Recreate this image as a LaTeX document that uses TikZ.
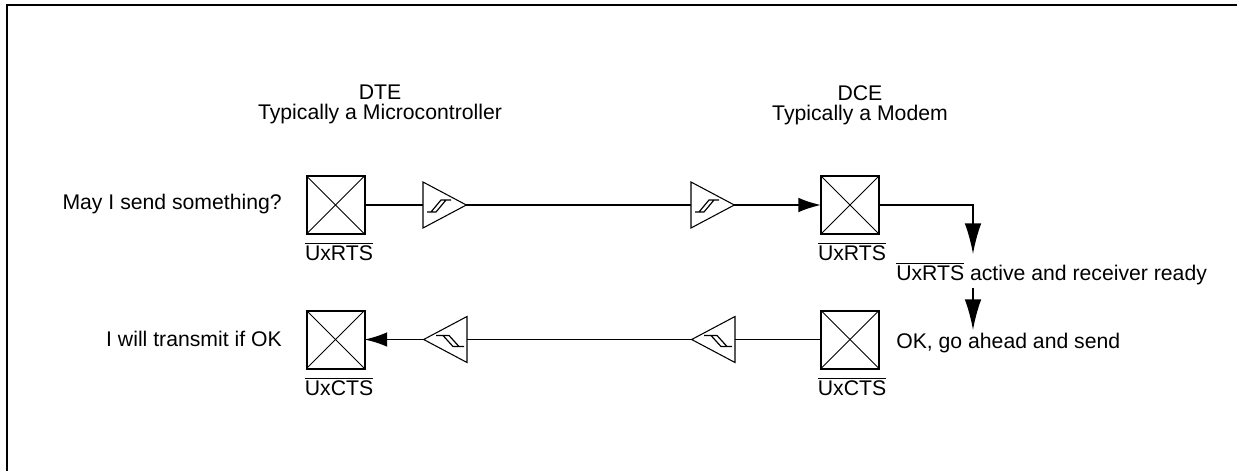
\documentclass[tikz,border=0pt]{standalone}
\usepackage{fontspec}
\setmainfont{Liberation Sans}
\usetikzlibrary{arrows.meta, shapes.geometric}

% hysteresis marks, drawn from the base of a buffer
\newcommand{\risemark}[1]{
    \draw[glyph] ([shift={(4,7)}]#1.lower side) -- ++(9,0) -- ++(10,-12) -- ++(5,0) -- ++(-10,0) -- ++(-10,12);
}
\newcommand{\fallmark}[1]{
    \draw[glyph] ([shift={(-3,7)}]#1.lower side) -- ++(-11,0) -- ++(-10,-11) -- ++(-7,0) -- ++(13,0) -- ++(10,11);
}

\begin{document}
\begin{tikzpicture}[
    x=0.75pt, y=-0.75pt,
    % Clean styles
    padbox/.style={
        rectangle,
        draw=black,
        line width=1.5pt,
        minimum size=43.5pt,
        inner sep=0pt,
        outer sep=0pt,
        path picture={
            \draw[line width=0.75pt] (path picture bounding box.north west) -- (path picture bounding box.south east);
            \draw[line width=0.75pt] (path picture bounding box.north east) -- (path picture bounding box.south west);
        }
    },
    buffer/.style={
        isosceles triangle,
        isosceles triangle stretches,
        draw=black,
        line width=0.8pt,
        minimum width=34.5pt,
        minimum height=32.5pt,
        inner sep=0pt,
        outer sep=0pt
    },
    glyph/.style={line width=0.9pt, x=0.75pt, y=-0.75pt, line join=bevel},
    signal/.style={line width=1.25pt},
    arrow/.style={
        signal,
        -{Latex[length=17pt, width=11pt]}
    },
    bigarrow/.style={
        signal,
        -{Latex[length=23pt, width=12.5pt]}
    },
    note/.style={
        font=\fontsize{15.9}{15}\selectfont,
        inner sep=0pt
    }
]
\useasboundingbox (0,0) rectangle (1246,471);

% === Frame ===
\coordinate (frameA) at (7,471);
\coordinate (frameB) at (7,5);
\coordinate (frameC) at (1237,5);
\draw[line width=1.6pt] (frameA) -- (frameB) -- (frameC);

% === Headings ===
\node[note, align=center, anchor=north] (dte) at (380,85) {DTE\\Typically a Microcontroller};
\node[note, align=center, anchor=north] (dce) at (860,85) {DCE\\Typically a Modem};

% === Pads ===
\node[padbox] (rtsA) at (335.5,205) {};
\node[padbox] (rtsB) at (850,205) {};
\node[padbox] (ctsA) at (335.5,339.5) {};
\node[padbox] (ctsB) at (850,339.5) {};

% === Buffers ===
\node[buffer, anchor=lower side] (bufA) at (423,205) {};
\node[buffer, anchor=lower side] (bufB) at (691,205) {};
\node[buffer, shape border rotate=180, anchor=lower side] (bufC) at (467,339.5) {};
\node[buffer, shape border rotate=180, anchor=lower side] (bufD) at (735,339.5) {};
\risemark{bufA}
\risemark{bufB}
\fallmark{bufC}
\fallmark{bufD}

% === Pad labels ===
\node[note, anchor=base] (lblA) at (339,260) {$\overline{\mbox{UxRTS}}$};
\node[note, anchor=base] (lblB) at (852,260) {$\overline{\mbox{UxRTS}}$};
\node[note, anchor=base] (lblC) at (339,395) {$\overline{\mbox{UxCTS}}$};
\node[note, anchor=base] (lblD) at (852,395) {$\overline{\mbox{UxCTS}}$};

% === Side text ===
\node[note, anchor=east] (askA) at (282,204) {May I send something?};
\node[note, anchor=east] (askB) at (282,339) {I will transmit if OK};
\node[note, anchor=base west] (ready) at (896,280) {$\overline{\mbox{UxRTS}}$ active and receiver ready};
\node[note, anchor=base west] (okay) at (896,348) {OK, go ahead and send};

% === Arrows ===
\coordinate (bend) at (973,205);
\coordinate (tipA) at (973,254);
\coordinate (tailB) at (973,288);
\coordinate (tipB) at (973,330);
\draw[signal] (rtsA.east) -- (bufA.lower side);
\draw[signal] (bufA.apex) -- (bufB.lower side);
\draw[arrow] (bufB.apex) -- (rtsB.west);
\draw[bigarrow] (rtsB.east) -- (bend) -- (tipA);
\draw[bigarrow] (tailB) -- (tipB);
\draw[signal] (ctsB.west) -- (bufD.lower side);
\draw[signal] (bufD.apex) -- (bufC.lower side);
\draw[arrow] (bufC.apex) -- (ctsA.east);

\end{tikzpicture}
\end{document}
